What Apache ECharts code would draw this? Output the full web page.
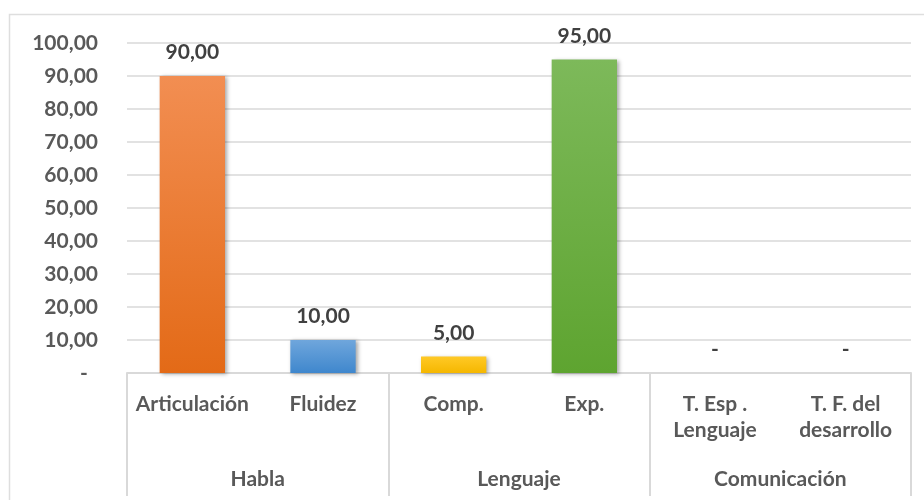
<!DOCTYPE html>
<html lang="es">
<head>
    <meta charset="UTF-8">
    <title>Habla, Lenguaje, Comunicación</title>
    <script src="https://cdn.jsdelivr.net/npm/echarts@6/dist/echarts.min.js"></script>
    <style type="text/css">
        html, body { margin: 0; padding: 0; background: #fff; }
        #main { width: 924px; height: 502px; }
    </style>
</head>
<body>
<div id="main"></div>
<script type="text/javascript">
    // datos
    var categories = ['Articulación', 'Fluidez', 'Comp.', 'Exp.', 'T. Esp .\nLenguaje', 'T. F. del\ndesarrollo'];
    var groups = ['Habla', 'Lenguaje', 'Comunicación'];
    var values = [90, 10, 5, 95, 0, 0];

    // colores de las barras (arriba / abajo)
    var topColors = ['#f28e52', '#6fa6dc', '#ffc926', '#7db95a', '#a5a5a5', '#a5a5a5'];
    var bottomColors = ['#e36a17', '#3f87cd', '#f5b700', '#5ea430', '#8c8c8c', '#8c8c8c'];

    var fmt = function (v) {
        if (v === 0) return '-';
        return v.toFixed(2).replace('.', ',');
    };

    var barData = values.map(function (v, i) {
        return {
            value: v,
            itemStyle: {
                color: new echarts.graphic.LinearGradient(0, 0, 0, 1, [
                    { offset: 0, color: topColors[i] },
                    { offset: 1, color: bottomColors[i] }
                ])
            }
        };
    });

    var myChart = echarts.init(document.getElementById('main'));
    var font = 'Lato';
    var option = {
        animation: false,
        backgroundColor: '#fff',
        grid: { left: 127, right: 13, top: 43, bottom: 129 },
        graphic: [
            { type: 'polyline', shape: { points: [[9.5, 500], [9.5, 14.5], [924, 14.5]] },
              style: { stroke: '#dedede', lineWidth: 1.5, fill: null } }
        ],
        xAxis: [
            {
                type: 'category',
                data: categories,
                axisLine: { lineStyle: { color: '#d9d9d9', width: 2 } },
                axisTick: { show: false },
                axisLabel: {
                    margin: 18, interval: 0,
                    color: '#595959', fontFamily: font, fontWeight: 'bold',
                    fontSize: 21, lineHeight: 26
                }
            },
            {
                type: 'category',
                data: groups,
                position: 'bottom',
                axisLine: { show: false },
                axisTick: { show: true, length: 123, lineStyle: { color: '#d9d9d9', width: 2 } },
                axisLabel: {
                    margin: 93, interval: 0,
                    color: '#595959', fontFamily: font, fontWeight: 'bold',
                    fontSize: 21, lineHeight: 26
                }
            }
        ],
        yAxis: {
            type: 'value',
            min: 0, max: 100, interval: 10,
            axisLine: { show: false },
            axisTick: { show: false },
            splitLine: { lineStyle: { color: '#d9d9d9', width: 1.5 } },
            axisLabel: {
                margin: 29,
                color: '#595959', fontFamily: font, fontWeight: 'bold', fontSize: 21,
                formatter: function (v) { return v === 0 ? '-  ' : fmt(v); }
            }
        },
        series: [{
            type: 'bar',
            xAxisIndex: 0,
            barWidth: '50%',
            data: barData,
            itemStyle: {
                shadowColor: 'rgba(0,0,0,0.35)',
                shadowBlur: 4,
                shadowOffsetX: 2,
                shadowOffsetY: 1
            },
            label: {
                show: true,
                position: 'top',
                distance: 13,
                color: '#404040', fontFamily: font, fontWeight: 'bold', fontSize: 21,
                formatter: function (p) { return fmt(p.value); }
            }
        }]
    };
    myChart.setOption(option);
</script>
</body>
</html>
